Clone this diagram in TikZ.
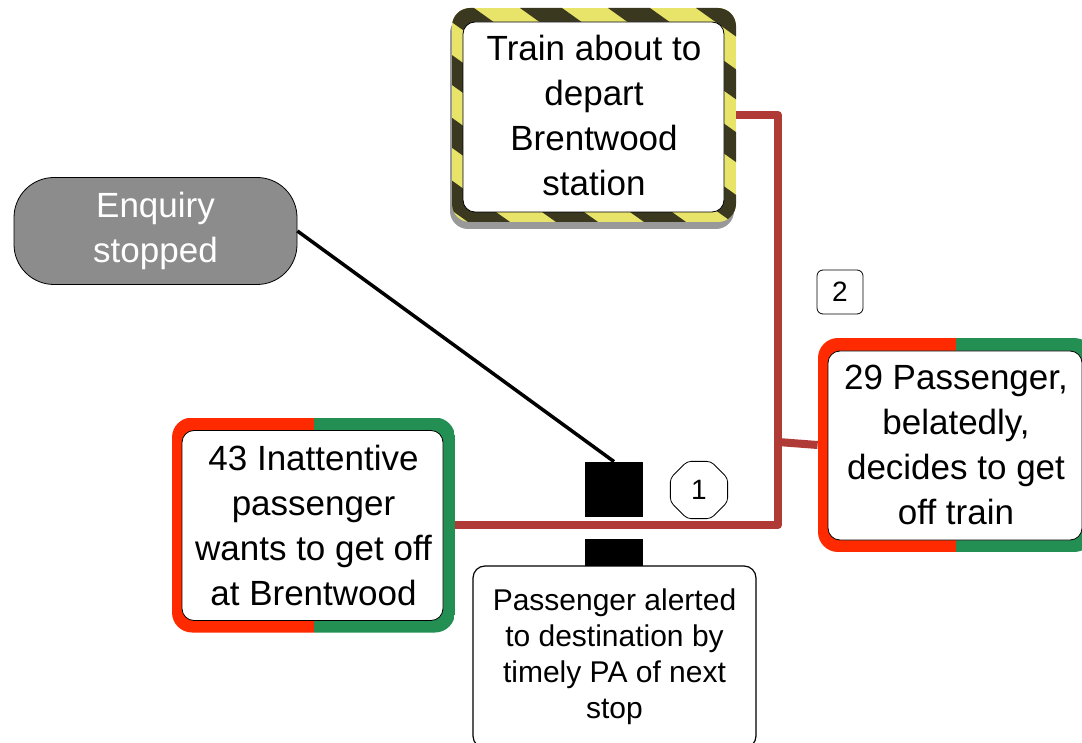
\documentclass[tikz,border=0pt]{standalone}
\usepackage{fontspec}
\setmainfont{Liberation Sans}
\usetikzlibrary{shapes.geometric,shadows}
\definecolor{linkred}{HTML}{B03A36}
\definecolor{halfred}{HTML}{FF2A00}
\definecolor{halfgreen}{HTML}{238F52}
\definecolor{hazyellow}{HTML}{E8E46A}
\definecolor{hazdark}{HTML}{3A3920}
\definecolor{stopgrey}{HTML}{8C8C8C}

\begin{document}
\begin{tikzpicture}[x=1pt, y=1pt, thick,
  big/.style = {font=\fontsize{35}{45}\selectfont, align=center},
  inner/.style = {fill=white, draw=black, line width=0.8pt, rounded corners=12pt},
  factor/.style = {big, rounded corners=20pt, minimum width=283pt, minimum height=215pt, inner sep=0pt,
    path picture={
      \fill[halfred, sharp corners] (path picture bounding box.south west) rectangle (path picture bounding box.north);
      \fill[halfgreen, sharp corners] (path picture bounding box.south) rectangle (path picture bounding box.north east);
      \draw[inner] ([shift={(10pt,12pt)}]path picture bounding box.south west) rectangle ([shift={(-12pt,-13pt)}]path picture bounding box.north east);
    }},
  hazard/.style = {big, rounded corners=18pt, minimum width=284pt, minimum height=214pt, inner sep=0pt,
    drop shadow={shadow xshift=-2pt, shadow yshift=-7pt, fill=gray!80, opacity=1},
    path picture={
      \fill[hazyellow, sharp corners] (path picture bounding box.south west) rectangle (path picture bounding box.north east);
      \foreach \k in {-4,...,4} {
        \fill[hazdark, sharp corners] ([xshift=\k*88pt-20pt]path picture bounding box.north west) -- ++(42pt,0) -- ++(300pt,-214pt) -- ++(-42pt,0) -- cycle;
      }
      \draw[inner] ([shift={(11pt,10pt)}]path picture bounding box.south west) rectangle ([shift={(-12pt,-14pt)}]path picture bounding box.north east);
    }},
  stopped/.style = {big, fill=stopgrey, draw=black, line width=0.8pt, text=white, rounded corners=40pt, minimum width=283pt, minimum height=107pt},
  barrier/.style = {fill=black, minimum width=58pt, inner sep=0pt},
  note/.style = {draw, line width=1.2pt, rounded corners=12pt, fill=white, font=\fontsize{30}{36}\selectfont, align=center, minimum width=283pt, minimum height=182pt},
  num/.style = {draw, line width=0.8pt, fill=white, font=\fontsize{28}{30}\selectfont, inner sep=0pt},
  feed/.style = {linkred, line width=8pt, line join=round}]
\useasboundingbox (0,0) rectangle (1082,-743);
\clip (0,0) rectangle (1082,-743);
\node[hazard] (train) at (594,-115) {Train about to\\depart\\Brentwood\\station};
\node[stopped] (enq) at (155.5,-231) {Enquiry\\stopped};
\node[factor] (inatt) at (313.5,-525) {43 Inattentive\\passenger\\wants to get off\\at Brentwood};
\node[factor, minimum width=276pt, minimum height=214pt] (belated) at (956,-445) {29 Passenger,\\belatedly,\\decides to get\\off train};
\node[barrier, minimum height=55pt] (barA) at (614,-489.5) {};
\node[barrier, minimum height=27pt] (barB) at (614,-552.5) {};
\node[note] (alert) at (614.5,-657) {Passenger alerted\\to destination by\\timely PA of next\\stop};
\node[num, regular polygon, regular polygon sides=8, minimum size=62pt, rounded corners=4pt] (one) at (699,-490) {1};
\node[num, rounded corners=6pt, minimum width=46pt, minimum height=44pt] (two) at (840,-292) {2};
\coordinate (bus) at (778,-442);
\draw[feed] (inatt.east) -| (bus) |- (train.east);
\draw[feed] (bus) -- (belated.west);
\draw[-, line width=3.5pt] (enq.east) -- (barA.north);
\end{tikzpicture}
\end{document}
